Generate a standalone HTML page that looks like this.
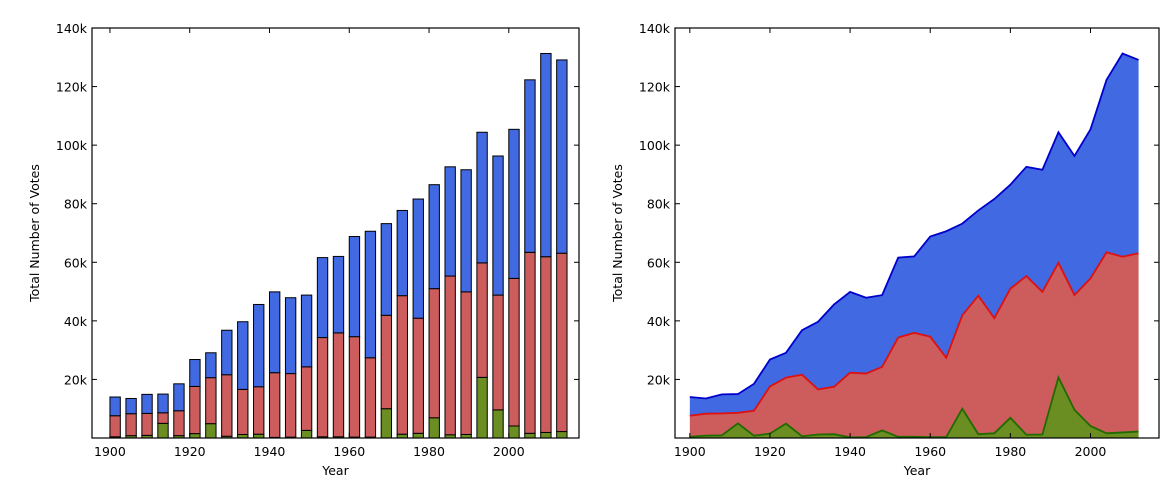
<!DOCTYPE html>
<html><head><meta charset="utf-8"><style>
html,body{margin:0;padding:0;background:#fff;}
svg{display:block;font-family:"DejaVu Sans","Liberation Sans",sans-serif;}
</style></head><body>
<svg id="chart" width="1172" height="489" viewBox="0 0 1172 489" xmlns="http://www.w3.org/2000/svg"></svg>
<script>
const years=[1900,1904,1908,1912,1916,1920,1924,1928,1932,1936,1940,1944,1948,1952,1956,1960,1964,1968,1972,1976,1980,1984,1988,1992,1996,2000,2004,2008,2012];
const greenVals=[0.4,0.8,0.9,5.0,0.8,1.5,4.9,0.6,1.2,1.3,0.2,0.3,2.6,0.4,0.4,0.3,0.3,10.0,1.3,1.6,6.9,1.1,1.2,20.7,9.6,4.1,1.6,1.9,2.2];
const redTops=[7.6,8.3,8.4,8.6,9.3,17.6,20.6,21.6,16.6,17.5,22.3,22.0,24.3,34.3,35.9,34.6,27.4,41.9,48.6,40.9,51.0,55.3,49.9,59.8,48.8,54.5,63.4,61.9,63.1];
const totals=[14.0,13.5,14.9,15.0,18.5,26.8,29.1,36.8,39.7,45.6,49.9,47.9,48.8,61.6,62.0,68.8,70.6,73.2,77.7,81.6,86.5,92.6,91.6,104.4,96.3,105.4,122.3,131.3,129.1];
const yTicks=[20,40,60,80,100,120,140];
const yTickLabels=["20k","40k","60k","80k","100k","120k","140k"];
const xTicks=[1900,1920,1940,1960,1980,2000];

const NS="http://www.w3.org/2000/svg";
const svg=document.getElementById('chart');
function mk(tag,attrs,parent){const e=document.createElementNS(NS,tag);for(const k in attrs)e.setAttribute(k,attrs[k]);(parent||svg).appendChild(e);return e;}
const Y0=438,Y1=28;
function yS(v){return Y0-(v/140)*(Y0-Y1);}

function axes(L,R,xmin,xmax,name){
  const g=mk('g',{});
  
  
  const xS=y=>L+(y-xmin)/(xmax-xmin)*(R-L);
  return {g,xS,L,R};
}
function frame(ax,prefix){
  const {g,xS,L,R}=ax;
  const f=mk('rect',{x:L,y:Y1,width:R-L,height:Y0-Y1,fill:'none',stroke:'#000','stroke-width':1.2},g);
  
  
  yTicks.forEach((v,i)=>{
    const y=yS(v);
    mk('line',{x1:L,x2:L+5,y1:y,y2:y,stroke:'#000'},g);
    mk('line',{x1:R,x2:R-5,y1:y,y2:y,stroke:'#000'},g);
    const t=mk('text',{x:L-5,y:y+5,'text-anchor':'end','font-size':12.5},g);
    t.textContent=yTickLabels[i];
    
    
  });
  xTicks.forEach(v=>{
    const x=xS(v);
    mk('line',{x1:x,x2:x,y1:Y0,y2:Y0-5,stroke:'#000'},g);
    mk('line',{x1:x,x2:x,y1:Y1,y2:Y1+5,stroke:'#000'},g);
    const t=mk('text',{x:x,y:Y0+18,'text-anchor':'middle','font-size':12.5},g);
    t.textContent=v;
    
    
  });
  const xt=mk('text',{x:(L+R)/2,y:475,'text-anchor':'middle','font-size':12.5},g);
  xt.textContent='Year';
  
  
  const yt=mk('text',{x:0,y:0,'text-anchor':'middle','font-size':12.5,transform:`translate(${L-53},${(Y0+Y1)/2}) rotate(-90)`},g);
  yt.textContent='Total Number of Votes';
  
  
}

// Left: stacked bars
const a1=axes(92,579,1895.5,2017.6,'bar-chart');
const bw=2.6;
years.forEach((yr,i)=>{
  const x=a1.xS(yr), w=a1.xS(yr+bw)-x;
  const segs=[[0,greenVals[i],'#6b8e23','green'],[greenVals[i],redTops[i],'#cd5c5c','red'],[redTops[i],totals[i],'#4169e1','blue']];
  segs.forEach(s=>{
    const r=mk('rect',{x:x,y:yS(s[1]),width:w,height:Math.max(0,yS(s[0])-yS(s[1])),fill:s[2],stroke:'#000','stroke-width':1},a1.g);
    
    
  });
});
frame(a1,'left');

// Right: stacked area
const a2=axes(675,1159,1896.3,2017.1,'area-chart');
function area(lo,hi,fill,stroke,name){
  let d='M'+years.map((yr,i)=>a2.xS(yr)+','+yS(hi[i])).join(' L');
  for(let i=years.length-1;i>=0;i--)d+=' L'+a2.xS(years[i])+','+yS(lo[i]);
  d+='Z';
  const p=mk('path',{d:d,fill:fill,stroke:'none'},a2.g);
  
  
  const l=mk('polyline',{points:years.map((yr,i)=>a2.xS(yr)+','+yS(hi[i])).join(' '),fill:'none',stroke:stroke,'stroke-width':1.8},a2.g);
  
  
}
const zeros=years.map(()=>0);
area(redTops,totals,'#4169e1','#0000cc','blue');
area(greenVals,redTops,'#cd5c5c','#dd1111','red');
area(zeros,greenVals,'#6b8e23','#1f6b00','green');
frame(a2,'right');
</script>
</body></html>
